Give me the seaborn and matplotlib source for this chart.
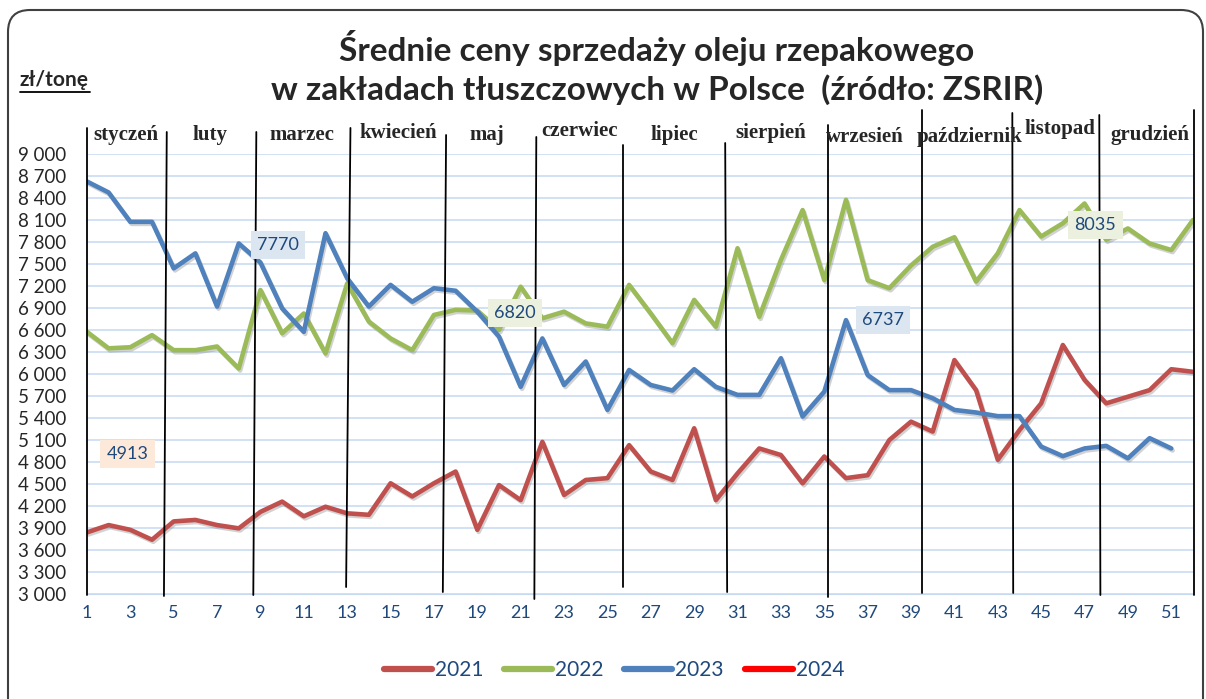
import numpy as np
import pandas as pd
import seaborn as sns
import matplotlib.pyplot as plt
import matplotlib.patheffects as pe
from matplotlib.lines import Line2D
from matplotlib.patches import FancyBboxPatch
from matplotlib.transforms import IdentityTransform

# weekly prices, zl/t
weeks = list(range(1, 53))
prices_2021 = [3840, 3940, 3875, 3740, 3990, 4010, 3940, 3895, 4120, 4260,
               4060, 4190, 4100, 4080, 4510, 4330, 4510, 4670, 3875, 4485,
               4280, 5075, 4350, 4555, 4580, 5030, 4670, 4555, 5260, 4280,
               4645, 4985, 4895, 4510, 4875, 4580, 4620, 5100, 5350, 5215,
               6190, 5780, 4830, 5235, 5600, 6395, 5920, 5600, 5690, 5780,
               6065, 6030]
prices_2022 = [6575, 6350, 6365, 6530, 6325, 6325, 6375, 6075, 7145, 6555,
               6825, 6280, 7235, 6715, 6485, 6325, 6805, 6875, 6865, 6600,
               7190, 6760, 6850, 6690, 6645, 7215, 6825, 6420, 7010, 6645,
               7715, 6780, 7555, 8235, 7280, 8375, 7280, 7170, 7480, 7735,
               7865, 7260, 7645, 8235, 7875, 8055, 8325, 7830, 7985, 7780,
               7690, 8100]
prices_2023 = [8625, 8475, 8075, 8075, 7440, 7645, 6920, 7780, 7520, 6895,
               6575, 7920, 7305, 6920, 7215, 6985, 7170, 7135, 6850, 6510,
               5825, 6485, 5850, 6170, 5510, 6055, 5850, 5775, 6065, 5825,
               5715, 5715, 6215, 5420, 5760, 6735, 5985, 5780, 5780, 5670,
               5510, 5475, 5425, 5425, 5010, 4880, 4985, 5020, 4850, 5125,
               4985, np.nan]
years = ["2021", "2022", "2023", "2024"]
colors = ["#c0504d", "#9bbb59", "#4f81bd", "#ff0000"]

months = ["styczeń", "luty", "marzec", "kwiecień", "maj", "czerwiec", "lipiec",
          "sierpień", "wrzesień", "październik", "listopad", "grudzień"]
# month boundaries (week units) and their vertical extent (price units)
bound_top_x = [1.0, 4.68, 8.81, 13.15, 17.56, 21.72, 25.72, 30.43, 35.17, 39.5, 43.67, 47.68, 52.03]
bound_bot_x = [1.0, 4.55, 8.67, 12.95, 17.41, 21.63, 25.72, 30.52, 35.17, 39.5, 43.71, 47.73, 52.03]
bound_top_y = [9355, 9300, 9300, 9355, 9259, 9232, 9123, 9150, 9395, 9600, 9559, 9532, 9600]
bound_bot_y = [2986, 2973, 2986, 3095, 3027, 2932, 3095, 3027, 2959, 3014, 3014, 2986, 2986]

point_labels = ["7770", "6820", "6737", "8035", "4913"]
label_weeks = [9.8, 20.75, 37.7, 47.5, 2.87]
label_vals = [7760, 6830, 6736, 8030, 4910]
label_bg = ["#dce6f1", "#ebf1de", "#dce6f1", "#ebf1de", "#fde9d9"]

df = pd.concat([
    pd.DataFrame({"week": weeks, "price": p, "year": y})
    for p, y in zip([prices_2021, prices_2022, prices_2023], years[:3])
]).dropna()

sns.set_style("white")
plt.rcParams["font.family"] = ["Lato", "DejaVu Sans"]

fig = plt.figure(figsize=(12.06, 6.99), dpi=100)
ax = fig.add_axes([0.0721, 0.1502, 0.9171, 0.6295])

sns.lineplot(data=df, x="week", y="price", hue="year", palette=colors[:3],
             linewidth=3.3, errorbar=None, legend=False, ax=ax,
             path_effects=[pe.SimpleLineShadow(offset=(1, -1.5), shadow_color="gray", alpha=0.35),
                           pe.Normal()])

ax.set_xlim(1, 52)
ax.set_ylim(3000, 9000)
ax.set_yticks(range(3000, 9001, 300))
ax.set_yticklabels([f"{v:,}".replace(",", " ") for v in range(3000, 9001, 300)], fontsize=13.5)
ax.set_xticks(range(1, 52, 2))
ax.set_xticks(weeks, minor=True)
ax.set_xticklabels([str(w) for w in range(1, 52, 2)], fontsize=13, color="#1f497d")
ax.tick_params(axis="y", length=0, pad=15)
ax.tick_params(axis="x", which="both", length=5, color="#c6d9f1", pad=3)
ax.set_xlabel("")
ax.set_ylabel("")
ax.yaxis.grid(True, color="#c6d9f1", lw=1.1)
ax.xaxis.grid(False)
for s in ["top", "right", "left"]:
    ax.spines[s].set_visible(False)
ax.spines["bottom"].set_color("#c6d9f1")

for x0, x1, y0, y1 in zip(bound_top_x, bound_bot_x, bound_top_y, bound_bot_y):
    ax.plot([x0, x1], [y0, y1], color="black", lw=1.3, clip_on=False, zorder=5)

for t, w, v, bg in zip(point_labels, label_weeks, label_vals, label_bg):
    ax.text(w, v, t, ha="center", va="center", fontsize=13, color="#1f497d",
            bbox=dict(boxstyle="square,pad=0.35", fc=bg, ec="none"), zorder=6)

# month names
month_px = [126, 210, 302, 398, 487, 580, 674, 771, 865, 970, 1060, 1150]
month_py = [135, 135, 135, 133, 135, 131, 135, 133, 137, 137, 129, 135]
for m, px, py in zip(months, month_px, month_py):
    fig.text(px / 1206, 1 - py / 699, m, ha="center", va="center", fontsize=15,
             fontweight="bold", family=["Liberation Serif", "DejaVu Serif"])

fig.text(657 / 1206, 1 - 48 / 699, "Średnie ceny sprzedaży oleju rzepakowego",
         ha="center", va="center", fontsize=24, fontweight="bold")
fig.text(657 / 1206, 1 - 90 / 699, "w zakładach tłuszczowych w Polsce  (źródło: ZSRIR)",
         ha="center", va="center", fontsize=24, fontweight="bold")

fig.text(20 / 1206, 1 - 80 / 699, "zł/tonę", ha="left", va="center", fontsize=15, fontweight="bold")
fig.add_artist(Line2D([20 / 1206, 90 / 1206], [1 - 92 / 699, 1 - 92 / 699], color="black", lw=1.3))

handles = [Line2D([], [], color=c, lw=4.5, solid_capstyle="round") for c in colors]
leg = fig.legend(handles, years, loc="center", bbox_to_anchor=(614 / 1206, 1 - 670 / 699),
                 ncol=4, frameon=False, fontsize=15, handlelength=2.3,
                 handletextpad=0.15, columnspacing=1.0)
for t in leg.get_texts():
    t.set_color("#1f497d")

fig.add_artist(FancyBboxPatch((8, -60), 1195, 749, boxstyle="round,pad=0,rounding_size=22",
                              transform=IdentityTransform(), fc="none", ec="#404040", lw=1.5))

fig.savefig("out.png", dpi=100)
